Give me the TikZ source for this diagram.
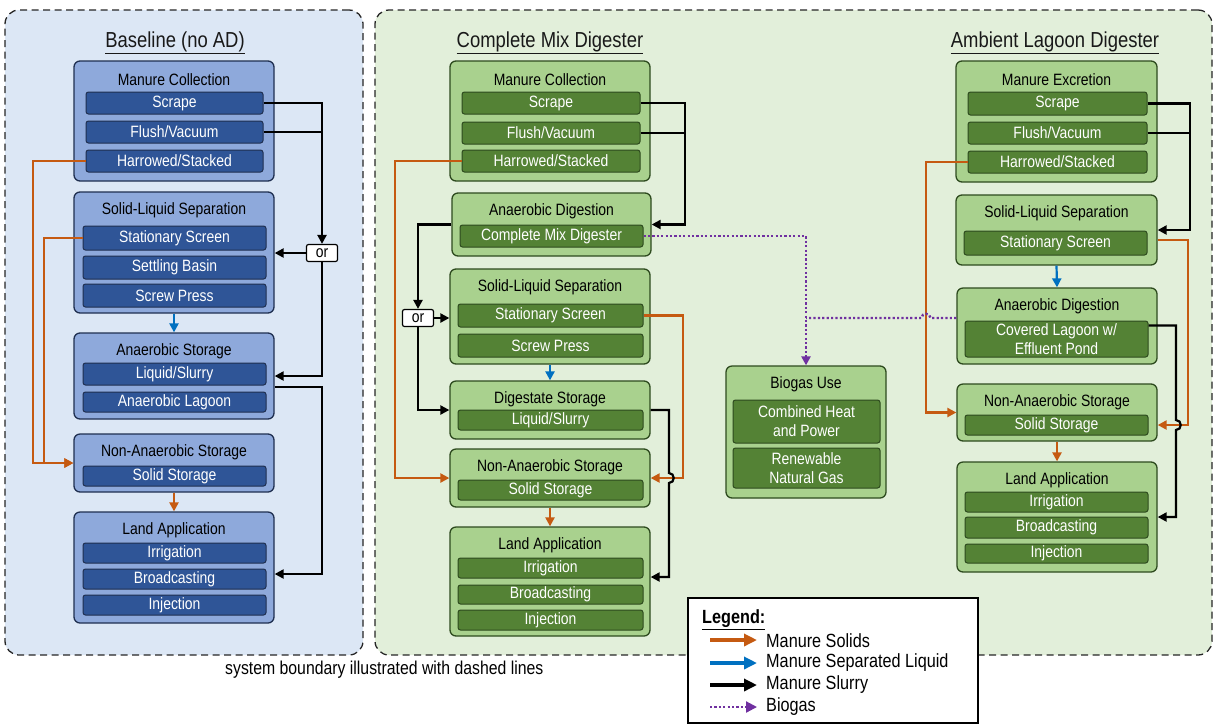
\documentclass[tikz,border=0pt]{standalone}
\usepackage{fontspec}
\setmainfont{Liberation Sans}[FakeStretch=0.85]
\usetikzlibrary{arrows.meta}
\definecolor{panB}{HTML}{DCE7F5}
\definecolor{panG}{HTML}{E2EFDA}
\definecolor{midB}{HTML}{8EA9DB}
\definecolor{subB}{HTML}{2F5597}
\definecolor{edgB}{HTML}{1F2F50}
\definecolor{midG}{HTML}{A9D18E}
\definecolor{subG}{HTML}{548235}
\definecolor{edgG}{HTML}{2D4A1E}
\definecolor{orng}{HTML}{C55A11}
\definecolor{lblu}{HTML}{0070C0}
\definecolor{purp}{HTML}{7030A0}
% generic rectangle node given by its corners
\newcommand{\rectnode}[7]{%
  \pgfmathsetmacro\rnw{#5-#3}\pgfmathsetmacro\rnh{#6-#4}%
  \pgfmathsetmacro\rnx{(#3+#5)/2}\pgfmathsetmacro\rny{(#4+#6)/2}%
  \node[#1, minimum width=\rnw pt, minimum height=\rnh pt] (#2) at (\rnx,\rny) {#7};}
\newcommand{\mybox}[7]{\rectnode{#1}{#2}{#3}{#4}{#5}{#6}{}\node[ttl] (#2t) at ([yshift=-19pt]#2.north) {#7};}
\newcommand{\mysub}[7]{\rectnode{#1}{#2}{#3}{#4}{#5}{#6}{#7}}
\tikzset{
  ttl/.style={font=\fontsize{16.4}{19}\selectfont, inner sep=0pt, text=black},
  boB/.style={draw=edgB, fill=midB, line width=1.3pt, rounded corners=6pt, inner sep=0pt},
  sbB/.style={draw=edgB, fill=subB, line width=1pt, rounded corners=2.5pt, inner sep=0pt, text=white, font=\fontsize{16.4}{19}\selectfont, align=center},
  boG/.style={draw=edgG, fill=midG, line width=1.3pt, rounded corners=6pt, inner sep=0pt},
  sbG/.style={draw=edgG, fill=subG, line width=1pt, rounded corners=2.5pt, inner sep=0pt, text=white, font=\fontsize{16.4}{19}\selectfont, align=center},
  panel/.style={draw=black!85, line width=1.3pt, dash pattern=on 7pt off 4.5pt, rounded corners=14pt, inner sep=0pt},
  hdr/.style={font=\fontsize{21.7}{24}\selectfont, inner sep=0pt, text=black!90},
  arr/.style={-{Triangle[length=9pt,width=9pt]}},
  bigarr/.style={-{Triangle[length=13pt,width=12pt]}},
  slurry/.style={draw=black, line width=2.2pt},
  solidsF/.style={draw=orng, line width=2.2pt},
  liq/.style={draw=lblu, line width=2.2pt},
  gas/.style={draw=purp, line width=2.4pt, dash pattern=on 2.2pt off 2.2pt},
  orbox/.style={draw=black, fill=white, line width=1.2pt, rounded corners=2pt, minimum width=31pt, minimum height=17pt, inner sep=0pt, font=\fontsize{16.4}{18}\selectfont},
  lgt/.style={font=\fontsize{19.1}{21}\selectfont, inner sep=0pt, anchor=west},
}
\begin{document}
\begin{tikzpicture}[x=1pt,y=-1pt]
\useasboundingbox (0,0) rectangle (1214,724);
% panels
\rectnode{panel, fill=panB}{pB}{5}{10}{363}{655}{}
\rectnode{panel, fill=panG}{pG}{375}{10}{1212}{655}{}
\node[hdr] (hB) at (175,43) {\underline{Baseline (no AD)}};
\node[hdr] (hM) at (550,43) {\underline{Complete Mix Digester}};
\node[hdr] (hA) at (1055,43) {\underline{Ambient Lagoon Digester}};

% ---------- Baseline ----------
\mybox{boB}{bMC}{74}{61}{274}{181}{Manure Collection}
\mysub{sbB}{bScr}{86}{92}{263}{114}{Scrape}
\mysub{sbB}{bFlu}{86}{121}{263}{143}{Flush/Vacuum}
\mysub{sbB}{bHar}{86}{150}{263}{172}{Harrowed/Stacked}
\mybox{boB}{bSLS}{74}{192}{274}{313}{Solid-Liquid Separation}
\mysub{sbB}{bSS}{83}{226}{266}{250}{Stationary Screen}
\mysub{sbB}{bSB}{83}{256}{266}{279}{Settling Basin}
\mysub{sbB}{bSP}{83}{284}{266}{307}{Screw Press}
\mybox{boB}{bAS}{74}{333}{274}{419}{Anaerobic Storage}
\mysub{sbB}{bLiq}{83}{363}{266}{385}{Liquid/Slurry}
\mysub{sbB}{bLag}{83}{392}{266}{412}{Anaerobic Lagoon}
\mybox{boB}{bNAS}{74}{434}{274}{492}{Non-Anaerobic Storage}
\mysub{sbB}{bSol}{83}{466}{266}{486}{Solid Storage}
\mybox{boB}{bLA}{74}{512}{274}{623}{Land Application}
\mysub{sbB}{bIrr}{83}{543}{266}{563}{Irrigation}
\mysub{sbB}{bBro}{83}{569}{266}{589}{Broadcasting}
\mysub{sbB}{bInj}{83}{595}{266}{615}{Injection}
\node[orbox] (bOr) at (322,253) {or};

\coordinate (bx1) at (33,0);
\coordinate (bx2) at (44,0);
\coordinate (bASo) at ([yshift=-11pt]bAS.east);
\coordinate (bLAi) at ([yshift=-6.5pt]bLA.east);
\draw[slurry,arr] (bScr.east) -| (bOr.north);
\draw[slurry] (bFlu.east) -- (bFlu.east -| bOr.north);
\draw[slurry,arr] (bOr.west) -- (bOr.west -| bSLS.east);
\draw[slurry,arr] (bOr.south) |- (bAS.east);
\draw[slurry,arr] (bASo) -- (bASo -| bOr.south) |- (bLAi);
\draw[liq,arr] (bSLS.south) -- (bAS.north);
\draw[solidsF,arr] (bNAS.south) -- (bLA.north);
\draw[solidsF,arr] (bHar.west) -- (bHar.west -| bx1) |- (bNAS.west);
\draw[solidsF,arr] (bSS.west) -- (bSS.west -| bx2) |- (bNAS.west);

% ---------- Complete Mix ----------
\mybox{boG}{mMC}{450}{61}{650}{181}{Manure Collection}
\mysub{sbG}{mScr}{462}{92}{640}{114}{Scrape}
\mysub{sbG}{mFlu}{462}{122}{640}{144}{Flush/Vacuum}
\mysub{sbG}{mHar}{462}{150}{640}{172}{Harrowed/Stacked}
\mybox{boG}{mAD}{452}{193}{651}{256}{Anaerobic Digestion}
\mysub{sbG}{mCMD}{460}{225}{643}{247}{Complete Mix Digester}
\mybox{boG}{mSLS}{450}{269}{650}{364}{Solid-Liquid Separation}
\mysub{sbG}{mSS}{458}{304}{643}{327}{Stationary Screen}
\mysub{sbG}{mSP}{458}{334}{643}{357}{Screw Press}
\mybox{boG}{mDS}{450}{381}{650}{439}{Digestate Storage}
\mysub{sbG}{mLiq}{458}{410}{643}{430}{Liquid/Slurry}
\mybox{boG}{mNAS}{450}{449}{650}{507}{Non-Anaerobic Storage}
\mysub{sbG}{mSol}{458}{480}{643}{500}{Solid Storage}
\mybox{boG}{mLA}{450}{527}{650}{636}{Land Application}
\mysub{sbG}{mIrr}{458}{558}{643}{578}{Irrigation}
\mysub{sbG}{mBro}{458}{585}{643}{604}{Broadcasting}
\mysub{sbG}{mInj}{458}{610}{643}{630}{Injection}
\node[orbox] (mOr) at (418,318) {or};

% ---------- Biogas use ----------
\mybox{boG}{gBU}{726}{366}{886}{498}{Biogas Use}
\mysub{sbG}{gCHP}{733}{400}{880}{443}{Combined Heat\\and Power}
\mysub{sbG}{gRNG}{733}{448}{880}{488}{Renewable\\Natural Gas}

% ---------- Ambient Lagoon ----------
\mybox{boG}{rMC}{956}{61}{1157}{182}{Manure Excretion}
\mysub{sbG}{rScr}{968}{92}{1147}{115}{Scrape}
\mysub{sbG}{rFlu}{968}{122}{1147}{144}{Flush/Vacuum}
\mysub{sbG}{rHar}{968}{151}{1147}{173}{Harrowed/Stacked}
\mybox{boG}{rSLS}{956}{195}{1157}{265}{Solid-Liquid Separation}
\mysub{sbG}{rSS}{964}{231}{1147}{255}{Stationary Screen}
\mybox{boG}{rAD}{957}{288}{1157}{364}{Anaerobic Digestion}
\mysub{sbG}{rCL}{965}{321}{1148}{357}{Covered Lagoon w/\\Effluent Pond}
\mybox{boG}{rNAS}{957}{384}{1157}{441}{Non-Anaerobic Storage}
\mysub{sbG}{rSol}{965}{415}{1148}{435}{Solid Storage}
\mybox{boG}{rLA}{957}{462}{1157}{572}{Land Application}
\mysub{sbG}{rIrr}{965}{492}{1148}{512}{Irrigation}
\mysub{sbG}{rBro}{965}{517}{1148}{538}{Broadcasting}
\mysub{sbG}{rInj}{965}{544}{1148}{563}{Injection}

% middle connectors
\coordinate (mx1) at (685,0);
\coordinate (mxo) at (683,0);
\coordinate (mxk) at (669,0);
\coordinate (mxl) at (395,0);
\coordinate (mLAi) at ([yshift=4.5pt]mLA.east);
\path (mNAS.east -| mxk) ++(0,-5) coordinate (mh1) ++(0,10) coordinate (mh2);
\draw[slurry,arr] (mScr.east) -- (mScr.east -| mx1) |- (mAD.east);
\draw[slurry] (mFlu.east) -- (mFlu.east -| mx1);
\draw[slurry,arr] (mAD.west) -| (mOr.north);
\draw[slurry,arr] (mOr.east) -- (mOr.east -| mSLS.west);
\draw[slurry,arr] (mOr.south) |- (mDS.west);
\draw[liq,arr] (mSLS.south) -- (mDS.north);
\draw[solidsF,arr] (mNAS.south) -- (mLA.north);
\draw[solidsF,arr] (mHar.west) -- (mHar.west -| mxl) |- (mNAS.west);
\draw[solidsF,arr] (mSS.east) -- (mSS.east -| mxo) |- (mNAS.east);
\draw[slurry,arr] (mDS.east) -- (mDS.east -| mxk) -- (mh1) to[out=0,in=0,looseness=1.6] (mh2) |- (mLAi);

% right connectors
\coordinate (rx1) at (1190,0);
\coordinate (rxo) at (1188,0);
\coordinate (rxk) at (1176,0);
\coordinate (rxl) at (926,0);
\coordinate (rSLSo) at ([yshift=-10pt]rSLS.east);
\coordinate (rNASi) at (rSol.east -| rNAS.east);
\coordinate (rADo) at ([yshift=-5pt]rCL.north east);
\path (rNASi -| rxk) ++(0,-5) coordinate (rh1) ++(0,10) coordinate (rh2);
\draw[slurry,arr,line width=2.8pt] (rScr.east) -- (rScr.east -| rx1) |- (rSLS.east);
\draw[slurry,line width=2.8pt] (rFlu.east) -- (rFlu.east -| rx1);
\draw[liq,arr] (rSLS.south) -- (rAD.north);
\draw[solidsF,arr] (rNAS.south) -- (rLA.north);
\draw[solidsF,arr] (rHar.west) -- (rHar.west -| rxl) |- (rNAS.west);
\draw[solidsF,arr] (rSLSo) -- (rSLSo -| rxo) |- (rNASi);
\draw[slurry,arr] (rADo) -- (rADo -| rxk) -- (rh1) to[out=0,in=0,looseness=1.6] (rh2) |- (rLA.east);

% biogas
\coordinate (rADg) at ([yshift=8pt]rAD.west);
\path (rADg -| rxl) ++(4.5,0) coordinate (gh1) ++(-9,0) coordinate (gh2);
\draw[gas,arr] (mCMD.east) -| (gBU.north);
\draw[gas] (rADg) -- (gh1) to[out=90,in=90,looseness=1.6] (gh2) -- (gh2 -| gBU.north);

% legend
\rectnode{draw=black, fill=white, line width=1.2pt, inner sep=0pt}{leg}{688}{598}{978}{723}{}
\node[font=\bfseries\fontsize{19.1}{21}\selectfont, anchor=west, inner sep=0pt] (legT) at (702,620) {\underline{Legend:}};
\node[lgt] (l1) at (766,641) {Manure Solids};
\node[lgt] (l2) at (766,663) {Manure Separated Liquid};
\node[lgt] (l3) at (766,685) {Manure Slurry};
\node[lgt] (l4) at (766,707) {Biogas};
\coordinate (l1a) at (710,640); \coordinate (l1b) at (757,640);
\coordinate (l2a) at (710,663); \coordinate (l2b) at (757,663);
\coordinate (l3a) at (710,685); \coordinate (l3b) at (757,685);
\coordinate (l4a) at (710,707); \coordinate (l4b) at (757,707);
\draw[solidsF,bigarr,line width=3.5pt] (l1a) -- (l1b);
\draw[liq,bigarr,line width=3.5pt] (l2a) -- (l2b);
\draw[slurry,bigarr,line width=3.5pt] (l3a) -- (l3b);
\draw[gas,line width=2.2pt,-{Triangle[length=11pt,width=11pt]}] (l4a) -- (l4b);

\node[font=\fontsize{18.6}{20}\selectfont, anchor=west, inner sep=0pt] (foot) at (225,670) {system boundary illustrated with dashed lines};
\end{tikzpicture}
\end{document}
